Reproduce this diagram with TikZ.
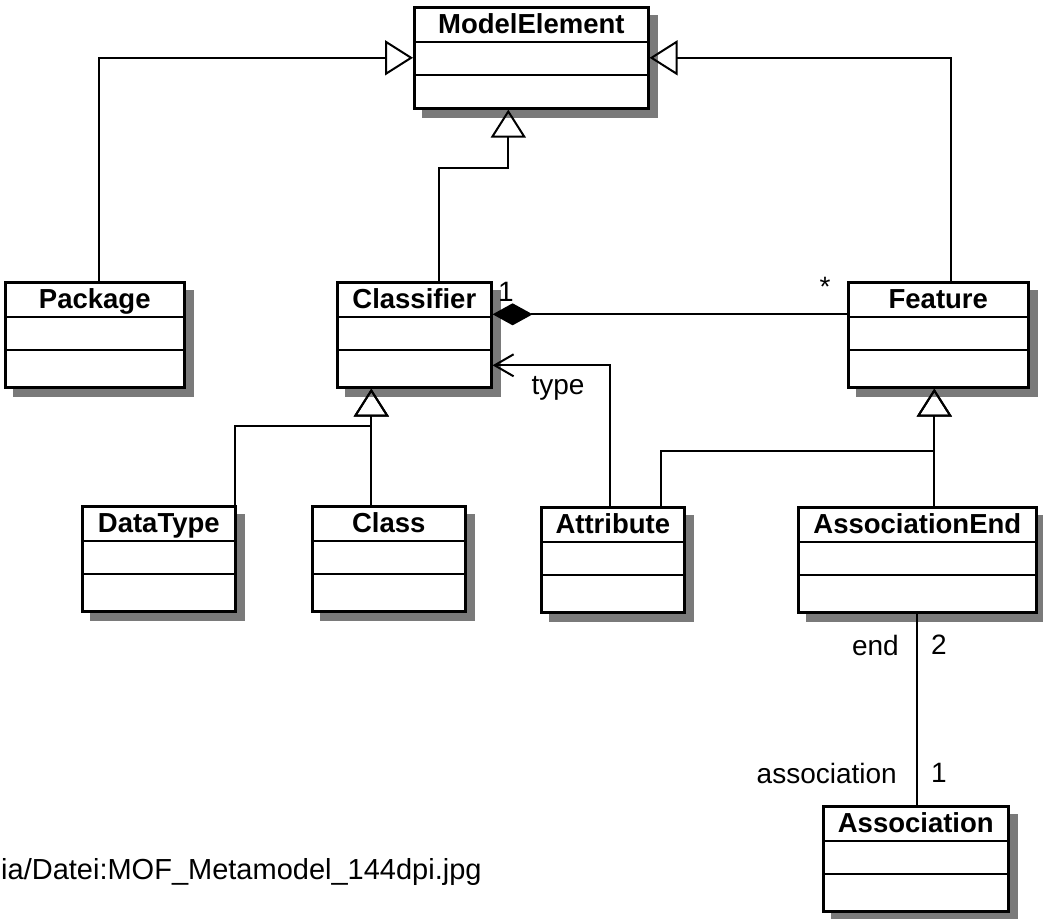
\documentclass[tikz,border=0pt]{standalone}
\usepackage{fontspec}
\setmainfont{Liberation Sans}
\usetikzlibrary{arrows.meta}
\definecolor{shade}{HTML}{7A7A7A}
\tikzset{
  umlbox/.style={draw, line width=2.6pt, fill=white, anchor=north west, inner sep=0pt},
  boxshadow/.style={fill=shade},
  titletext/.style={font=\fontsize{27.5}{30}\selectfont\bfseries, inner sep=0pt, anchor=base},
  divider/.style={line width=2.2pt},
  link/.style={line width=2pt},
  gen/.style={link, -{Triangle[open, length=28pt, width=35pt]}},
  comp/.style={link, {Diamond[length=40pt, width=22pt]}-},
  nav/.style={link, -{Straight Barb[length=19pt, width=22pt]}},
  lbl/.style={font=\fontsize{28}{32}\selectfont, inner sep=0pt},
}
% class box with three compartments: name, x, y (top left), width, height, title
\newcommand\umlclass[6]{%
  \fill[boxshadow] (#2+9,#3+9) rectangle (#2+#4+10.5,#3+#5+10.5);
  \node[umlbox, minimum width=#4pt, minimum height=#5pt] (#1) at (#2,#3) {};
  \node[titletext] (#1-title) at ([yshift=-27pt]#1.north) {#6};
  \draw[divider] ([yshift=-36pt]#1.north west) -- ([yshift=-36pt]#1.north east);
  \draw[divider] ([yshift=-69pt]#1.north west) -- ([yshift=-69pt]#1.north east);
}
\begin{document}
\begin{tikzpicture}[x=1pt, y=-1pt]
\useasboundingbox (0,0) rectangle (1043,918);

\umlclass{me}{413}{6}{234}{101}{ModelElement}
\umlclass{pkg}{4}{281}{179}{105}{Package}
\umlclass{cls}{336}{281}{154}{105}{Classifier}
\umlclass{feat}{847}{281}{180}{105}{Feature}
\umlclass{dt}{81}{505}{153}{105}{DataType}
\umlclass{cla}{311}{505}{153}{105}{Class}
\umlclass{attr}{540}{506}{143}{105}{Attribute}
\umlclass{ae}{797}{506}{238}{105}{AssociationEnd}
\umlclass{asc}{822}{805}{185}{105}{Association}

% generalisation targets below Classifier and Feature
\coordinate (clsgen) at ([xshift=-43pt]cls.south);
\coordinate (featgen) at ([xshift=-4pt]feat.south);

% generalisations
\draw[gen] ([xshift=4.5pt]pkg.north) |- (me.west);
\draw[gen] ([xshift=13pt]feat.north) |- (me.east);
\draw[gen] ([xshift=25pt]cls.north) |- ([xshift=-23pt, yshift=-58pt]me.south) -- ([xshift=-23pt]me.south);
\draw[gen] (cla.north -| clsgen) -- (clsgen);
\draw[gen] ([xshift=-2pt]dt.north east) |- ([yshift=-37pt]clsgen) -- (clsgen);
\draw[gen] (ae.north -| featgen) -- (featgen);
\draw[gen] ([xshift=48.5pt]attr.north) |- ([yshift=-62pt]featgen) -- (featgen);

% associations
\draw[comp] ([yshift=20.5pt]cls.east) -- ([yshift=20.5pt]feat.west);
\draw[nav] ([xshift=-2.5pt]attr.north) |- ([yshift=-30.5pt]cls.east);
\draw[link] (ae.south) -- (ae.south |- asc.north);

% role names and multiplicities
\node[lbl] (m-one) at (506,292) {1};
\node[lbl] (m-star) at (825,287) {*};
\node[lbl] (r-type) at (558,388) {type};
\node[lbl, anchor=east] (r-end) at (899,645) {end};
\node[lbl] (m-two) at (939,645) {2};
\node[lbl, anchor=east] (r-assoc) at (897,773) {association};
\node[lbl] (m-assoc) at (939,773) {1};

% source line
\node[font=\fontsize{29}{33}\selectfont, inner sep=0pt, anchor=base west] (src) at (1,879) {ia/Datei:MOF\_Metamodel\_144dpi.jpg};
\end{tikzpicture}
\end{document}
